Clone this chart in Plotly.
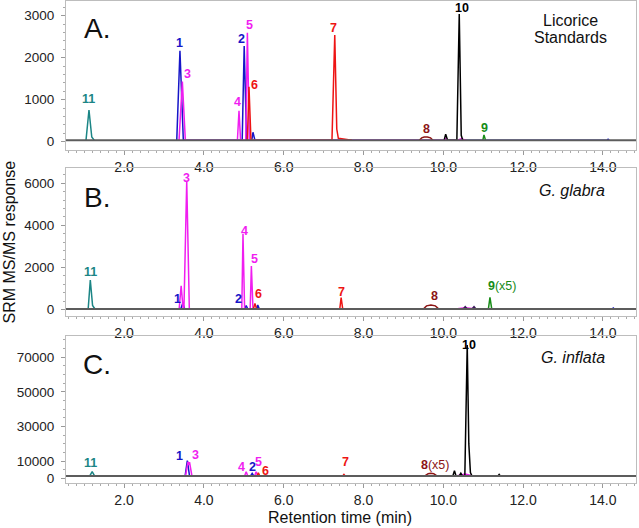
import plotly.graph_objects as go

# ---------------- data (retention time in min, SRM response) ----------------
x_range = [0.544, 14.83]

# Panel A: Licorice standards
base_A = 30
a_teal_t = [1.045, 1.12, 1.19, 1.253]
a_teal_y = [30, 754, 110, 30]
a_blue_t = [3.32, 3.40, 3.485, 4.96, 5.01, 5.07, 5.20, 5.23, 5.28, 14.10, 14.13, 14.16]
a_blue_y = [30, 2166, 30, 30, 2278, 30, 30, 223, 30, 30, 56, 30]
a_mag_t = [3.377, 3.46, 3.535, 4.84, 4.88, 4.92, 5.05, 5.09, 5.14, 10.02, 10.06, 10.11, 10.34, 10.45, 10.59]
a_mag_y = [30, 1428, 30, 30, 737, 30, 30, 2595, 30, 30, 75, 30, 30, 65, 30]
a_red_t = [5.09, 5.13, 5.18, 7.21, 7.28, 7.33, 7.37, 7.71]
a_red_y = [30, 1309, 30, 30, 2540, 300, 80, 30]
a_dred_t = [9.40, 9.46, 9.52, 9.60, 9.68, 9.74]
a_dred_y = [30, 90, 111, 111, 90, 30]
a_black_t = [10.02, 10.06, 10.11, 10.34, 10.40, 10.45, 10.49]
a_black_y = [30, 175, 30, 30, 3040, 150, 30]
a_green_t = [10.99, 11.02, 11.06]
a_green_y = [30, 159, 30]

# Panel B: G. glabra
base_B = 30
b_teal_t = [1.10, 1.153, 1.21, 1.27]
b_teal_y = [30, 1407, 200, 30]
b_blue_t = [3.42, 3.47, 3.52, 5.02, 5.06, 5.10, 5.31, 5.35, 5.39, 14.23, 14.26, 14.29]
b_blue_y = [30, 300, 30, 30, 200, 30, 30, 220, 30, 30, 83, 30]
b_mag_t = [3.38, 3.43, 3.48, 3.50, 3.57, 3.635, 4.95, 4.98, 5.02, 5.16, 5.19, 5.23, 10.30, 10.55, 10.84]
b_mag_y = [30, 1137, 30, 30, 6100, 30, 30, 3589, 30, 30, 2071, 30, 30, 90, 30]
b_red_t = [5.24, 5.28, 5.32, 7.405, 7.44, 7.48]
b_red_y = [30, 300, 30, 30, 567, 30]
b_dred_t = [9.50, 9.58, 9.69, 9.80, 9.89]
b_dred_y = [30, 180, 220, 180, 30]
b_dark_t = [10.50, 10.55, 10.60, 10.72, 10.77, 10.82]
b_dark_y = [30, 140, 30, 30, 140, 30]
b_green_t = [11.13, 11.17, 11.215]
b_green_y = [30, 586, 30]

# Panel C: G. inflata
base_C = 1500
c_teal_t = [1.14, 1.20, 1.26]
c_teal_y = [1500, 3970, 1500]
c_blue_t = [3.53, 3.585, 3.64, 5.17, 5.21, 5.25]
c_blue_y = [1500, 10300, 1500, 1500, 3000, 1500]
c_mag_t = [3.54, 3.60, 3.62, 3.64, 3.70, 5.02, 5.06, 5.10, 5.27, 5.31, 5.35, 10.32, 10.55, 10.75]
c_mag_y = [1500, 9700, 8000, 9500, 1500, 1500, 3970, 1500, 1500, 3970, 1500, 1500, 2600, 1500]
c_red_t = [5.33, 5.365, 5.40, 7.48, 7.51, 7.54]
c_red_y = [1500, 3400, 1500, 1500, 2400, 1500]
c_dred_t = [9.54, 9.62, 9.69, 9.76, 9.84]
c_dred_y = [1500, 2800, 3000, 2800, 1500]
c_black_t = [10.24, 10.28, 10.32, 10.40, 10.44, 10.48, 10.54, 10.60, 10.64, 10.68, 10.72, 11.37, 11.40, 11.43]
c_black_y = [1500, 4570, 1500, 1500, 3050, 1500, 1500, 77070, 20000, 3500, 1500, 1500, 2400, 1500]

y_ticks_A = [0, 1000, 2000, 3000]
y_ticks_B = [0, 2000, 4000, 6000]
y_ticks_C = [0, 10000, 30000, 50000, 70000]
x_ticks = [2, 4, 6, 8, 10, 12, 14]

# ---------------- styles ----------------
TEAL = "#1b8585"
BLUE = "#1616c8"
MAG = "#f01ef0"
RED = "#ee1414"
DRED = "#8c1414"
BLACK = "#000000"
GREEN = "#178c17"
DARK = "#3a1a5a"
GREY = "#5c5c5c"
FONT = "Liberation Sans, Arial, sans-serif"

fig = go.Figure()

panels = [
    ("x", "y", base_A, [(a_teal_t, a_teal_y, TEAL), (a_blue_t, a_blue_y, BLUE), (a_mag_t, a_mag_y, MAG),
                        (a_red_t, a_red_y, RED), (a_dred_t, a_dred_y, DRED), (a_green_t, a_green_y, GREEN),
                        (a_black_t, a_black_y, BLACK)]),
    ("x2", "y2", base_B, [(b_teal_t, b_teal_y, TEAL), (b_blue_t, b_blue_y, BLUE), (b_mag_t, b_mag_y, MAG),
                          (b_red_t, b_red_y, RED), (b_dred_t, b_dred_y, DRED), (b_dark_t, b_dark_y, DARK),
                          (b_green_t, b_green_y, GREEN)]),
    ("x3", "y3", base_C, [(c_teal_t, c_teal_y, TEAL), (c_blue_t, c_blue_y, BLUE), (c_mag_t, c_mag_y, MAG),
                          (c_red_t, c_red_y, RED), (c_dred_t, c_dred_y, DRED), (c_black_t, c_black_y, BLACK)]),
]

for xa, ya, base, traces in panels:
    for t, y, col in traces:
        fig.add_trace(go.Scatter(x=t, y=y, mode="lines", line=dict(color=col, width=1.5),
                                 xaxis=xa, yaxis=ya, showlegend=False, hoverinfo="skip"))
    fig.add_trace(go.Scatter(x=x_range, y=[base, base], mode="lines", line=dict(color=GREY, width=2),
                             xaxis=xa, yaxis=ya, showlegend=False, hoverinfo="skip"))

# peak labels: (text, color, x, y, xref, yref)
labels = [
    ("11", TEAL, 1.12, 1016, "x", "y"), ("1", BLUE, 3.38, 2349, "x", "y"), ("3", MAG, 3.60, 1611, "x", "y"),
    ("4", MAG, 4.83, 944, "x", "y"), ("2", BLUE, 4.93, 2433, "x", "y"), ("5", MAG, 5.14, 2778, "x", "y"),
    ("6", RED, 5.28, 1349, "x", "y"), ("7", RED, 7.25, 2699, "x", "y"), ("8", DRED, 9.59, 295, "x", "y"),
    ("10", BLACK, 10.46, 3190, "x", "y"), ("9", GREEN, 11.03, 333, "x", "y"),

    ("11", TEAL, 1.17, 1772, "x2", "y2"), ("1", BLUE, 3.33, 492, "x2", "y2"), ("3", MAG, 3.57, 6231, "x2", "y2"),
    ("2", BLUE, 4.87, 492, "x2", "y2"), ("4", MAG, 5.02, 3745, "x2", "y2"), ("5", MAG, 5.26, 2417, "x2", "y2"),
    ("6", RED, 5.38, 743, "x2", "y2"), ("7", RED, 7.46, 852, "x2", "y2"), ("8", DRED, 9.78, 662, "x2", "y2"),
    ("<b>9</b>(x5)", GREEN, 11.47, 1137, "x2", "y2"),

    ("11", TEAL, 1.146, 9160, "x3", "y3"), ("1", BLUE, 3.38, 13030, "x3", "y3"), ("3", MAG, 3.785, 13600, "x3", "y3"),
    ("4", MAG, 4.93, 6510, "x3", "y3"), ("2", BLUE, 5.21, 6510, "x3", "y3"), ("5", MAG, 5.375, 9740, "x3", "y3"),
    ("6", RED, 5.54, 4550, "x3", "y3"), ("7", RED, 7.555, 9400, "x3", "y3"),
    ("<b>8</b>(x5)", DRED, 9.79, 7840, "x3", "y3"), ("10", BLACK, 10.65, 76780, "x3", "y3"),
]

annotations = []
for text, col, x, y, xr, yr in labels:
    txt = text if text.startswith("<b>") else "<b>" + text + "</b>"
    annotations.append(dict(text=txt, x=x, y=y, xref=xr, yref=yr, showarrow=False,
                            xanchor="center", yanchor="middle",
                            font=dict(family=FONT, size=12.5, color=col)))

# panel letters and sample names
for text, x, y, xr, yr in [("A.", 1.32, 2706, "x", "y"), ("B.", 1.32, 5332, "x2", "y2"), ("C.", 1.32, 65529, "x3", "y3")]:
    annotations.append(dict(text=text, x=x, y=y, xref=xr, yref=yr, showarrow=False, xanchor="center",
                            yanchor="middle", font=dict(family=FONT, size=28, color="#111111")))
annotations += [
    dict(text="Licorice", x=13.18, y=2880, xref="x", yref="y", showarrow=False, xanchor="center",
         yanchor="middle", font=dict(family=FONT, size=16, color="#111111")),
    dict(text="Standards", x=13.18, y=2475, xref="x", yref="y", showarrow=False, xanchor="center",
         yanchor="middle", font=dict(family=FONT, size=16, color="#111111")),
    dict(text="<i>G. glabra</i>", x=13.23, y=5676, xref="x2", yref="y2", showarrow=False, xanchor="center",
         yanchor="middle", font=dict(family=FONT, size=16, color="#111111")),
    dict(text="<i>G. inflata</i>", x=13.26, y=69970, xref="x3", yref="y3", showarrow=False, xanchor="center",
         yanchor="middle", font=dict(family=FONT, size=16, color="#111111")),
    dict(text="SRM MS/MS response", x=-0.1, y=0.499, xref="paper", yref="paper", showarrow=False,
         textangle=-90, xanchor="center", yanchor="middle", font=dict(family=FONT, size=16, color="#111111")),
    dict(text="Retention time (min)", x=0.4807, y=-0.0726, xref="paper", yref="paper", showarrow=False,
         xanchor="center", yanchor="middle", font=dict(family=FONT, size=16, color="#111111")),
]

AX_LINE = "#bdbdbd"

def xaxis(anchor):
    return dict(range=x_range, anchor=anchor, domain=[0, 1], tickmode="array", tickvals=x_ticks,
                ticktext=[f"{v:.1f}" for v in x_ticks], ticks="outside", ticklen=4, tickcolor="#999999",
                showline=True, mirror=True, linecolor=AX_LINE, linewidth=1, showgrid=False, zeroline=False,
                tickfont=dict(family=FONT, size=14, color="#222222"),
                minor=dict(ticks="outside", ticklen=2, dtick=0.2, tick0=0, tickcolor="#aaaaaa"))

def yaxis(anchor, dom, rng, vals, minor_dt):
    return dict(range=rng, anchor=anchor, domain=dom, tickmode="array", tickvals=vals,
                ticktext=[str(v) for v in vals], ticks="outside", ticklen=4, tickcolor="#999999",
                showline=True, mirror=True, linecolor=AX_LINE, linewidth=1, showgrid=False, zeroline=False,
                ticklabelstandoff=4,
                tickfont=dict(family=FONT, size=13.5, color="#222222"),
                minor=dict(ticks="outside", ticklen=2, dtick=minor_dt, tick0=0, tickcolor="#aaaaaa"))

fig.update_layout(
    width=639, height=528,
    margin=dict(l=66, r=3, t=1, b=45),
    paper_bgcolor="white", plot_bgcolor="white",
    xaxis=xaxis("y"), xaxis2=xaxis("y2"), xaxis3=xaxis("y3"),
    yaxis=yaxis("x", [0.691, 1.0], [-198, 3349], y_ticks_A, 200),
    yaxis2=yaxis("x2", [0.3465, 0.6535], [-300, 6719], y_ticks_B, 400),
    yaxis3=yaxis("x3", [0.0, 0.305], [-2548, 82260], y_ticks_C, 5000),
    annotations=annotations,
    showlegend=False,
)

fig.write_html("out.html", config={"displayModeBar": False},
               post_script="document.body.style.margin='0px';document.body.style.overflow='hidden';")
